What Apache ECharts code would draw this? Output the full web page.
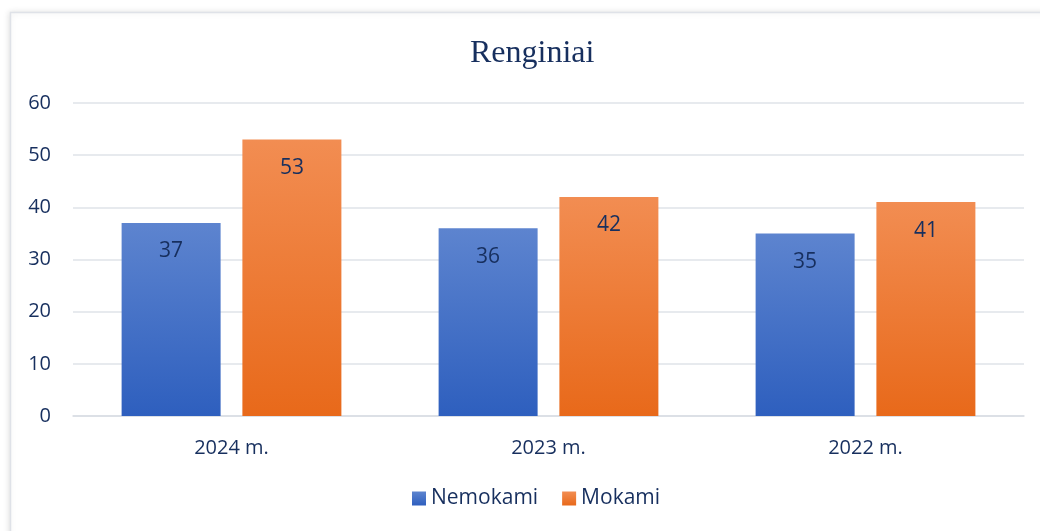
<!DOCTYPE html>
<html>
<head>
    <meta charset="utf-8">
    <script src="https://cdn.jsdelivr.net/npm/echarts@6/dist/echarts.min.js"></script>
</head>
<body style="margin:0;background:#fff;">
    <div id="main" style="width:1040px;height:531px;"></div>
    <script type="text/javascript">
        var myChart = echarts.init(document.getElementById('main'));

        var title = 'Renginiai';
        var categories = ['2024 m.', '2023 m.', '2022 m.'];
        var nemokami = [37, 36, 35];
        var mokami = [53, 42, 41];
        var yTicks = { min: 0, max: 60, interval: 10 };

        var textColor = '#172f5e';
        var font = '"Open Sans", Lato, sans-serif';

        function grad(top, bottom) {
            return new echarts.graphic.LinearGradient(0, 0, 0, 1, [
                { offset: 0, color: top },
                { offset: 1, color: bottom }
            ]);
        }

        var option = {
            backgroundColor: '#ffffff',
            animation: false,
            graphic: [{
                type: 'rect',
                shape: { x: 10.5, y: 12.5, width: 1040, height: 530 },
                style: {
                    fill: '#ffffff',
                    stroke: '#dfe2e8',
                    lineWidth: 1.5,
                    shadowBlur: 6,
                    shadowColor: 'rgba(0,0,0,0.12)',
                    shadowOffsetX: -1
                },
                z: -10
            }],
            title: {
                text: title,
                left: 465,
                top: 33,
                textStyle: {
                    fontFamily: '"Liberation Serif", serif',
                    fontWeight: 'normal',
                    fontSize: 32,
                    color: textColor
                }
            },
            legend: {
                bottom: 17,
                left: 407,
                itemWidth: 14,
                itemHeight: 14,
                itemGap: 24,
                icon: 'rect',
                textStyle: { fontFamily: font, fontSize: 21, color: textColor },
                data: ['Nemokami', 'Mokami']
            },
            grid: { left: 73, right: 16, top: 103, bottom: 115, containLabel: false },
            xAxis: {
                type: 'category',
                data: categories,
                axisLine: { lineStyle: { color: '#d9dde3', width: 1.5 } },
                axisTick: { show: false },
                axisLabel: { fontFamily: font, fontSize: 20, color: textColor, margin: 22 }
            },
            yAxis: {
                type: 'value',
                min: yTicks.min,
                max: yTicks.max,
                interval: yTicks.interval,
                axisLine: { show: false },
                axisTick: { show: false },
                splitLine: { lineStyle: { color: '#dfe3e8', width: 1.5 } },
                axisLabel: { fontFamily: font, fontSize: 20, color: textColor, margin: 22 }
            },
            series: [{
                name: 'Nemokami',
                type: 'bar',
                data: nemokami,
                barWidth: 99,
                barGap: '22%',
                itemStyle: { color: grad('#5d84cf', '#2e5fbe') },
                label: {
                    show: true, position: 'insideTop', distance: 18,
                    fontFamily: font, fontSize: 21, color: textColor
                }
            }, {
                name: 'Mokami',
                type: 'bar',
                data: mokami,
                barWidth: 99,
                itemStyle: { color: grad('#f28d52', '#e8691a') },
                label: {
                    show: true, position: 'insideTop', distance: 18,
                    fontFamily: font, fontSize: 21, color: textColor
                }
            }]
        };

        myChart.setOption(option);
    </script>
</body>
</html>
